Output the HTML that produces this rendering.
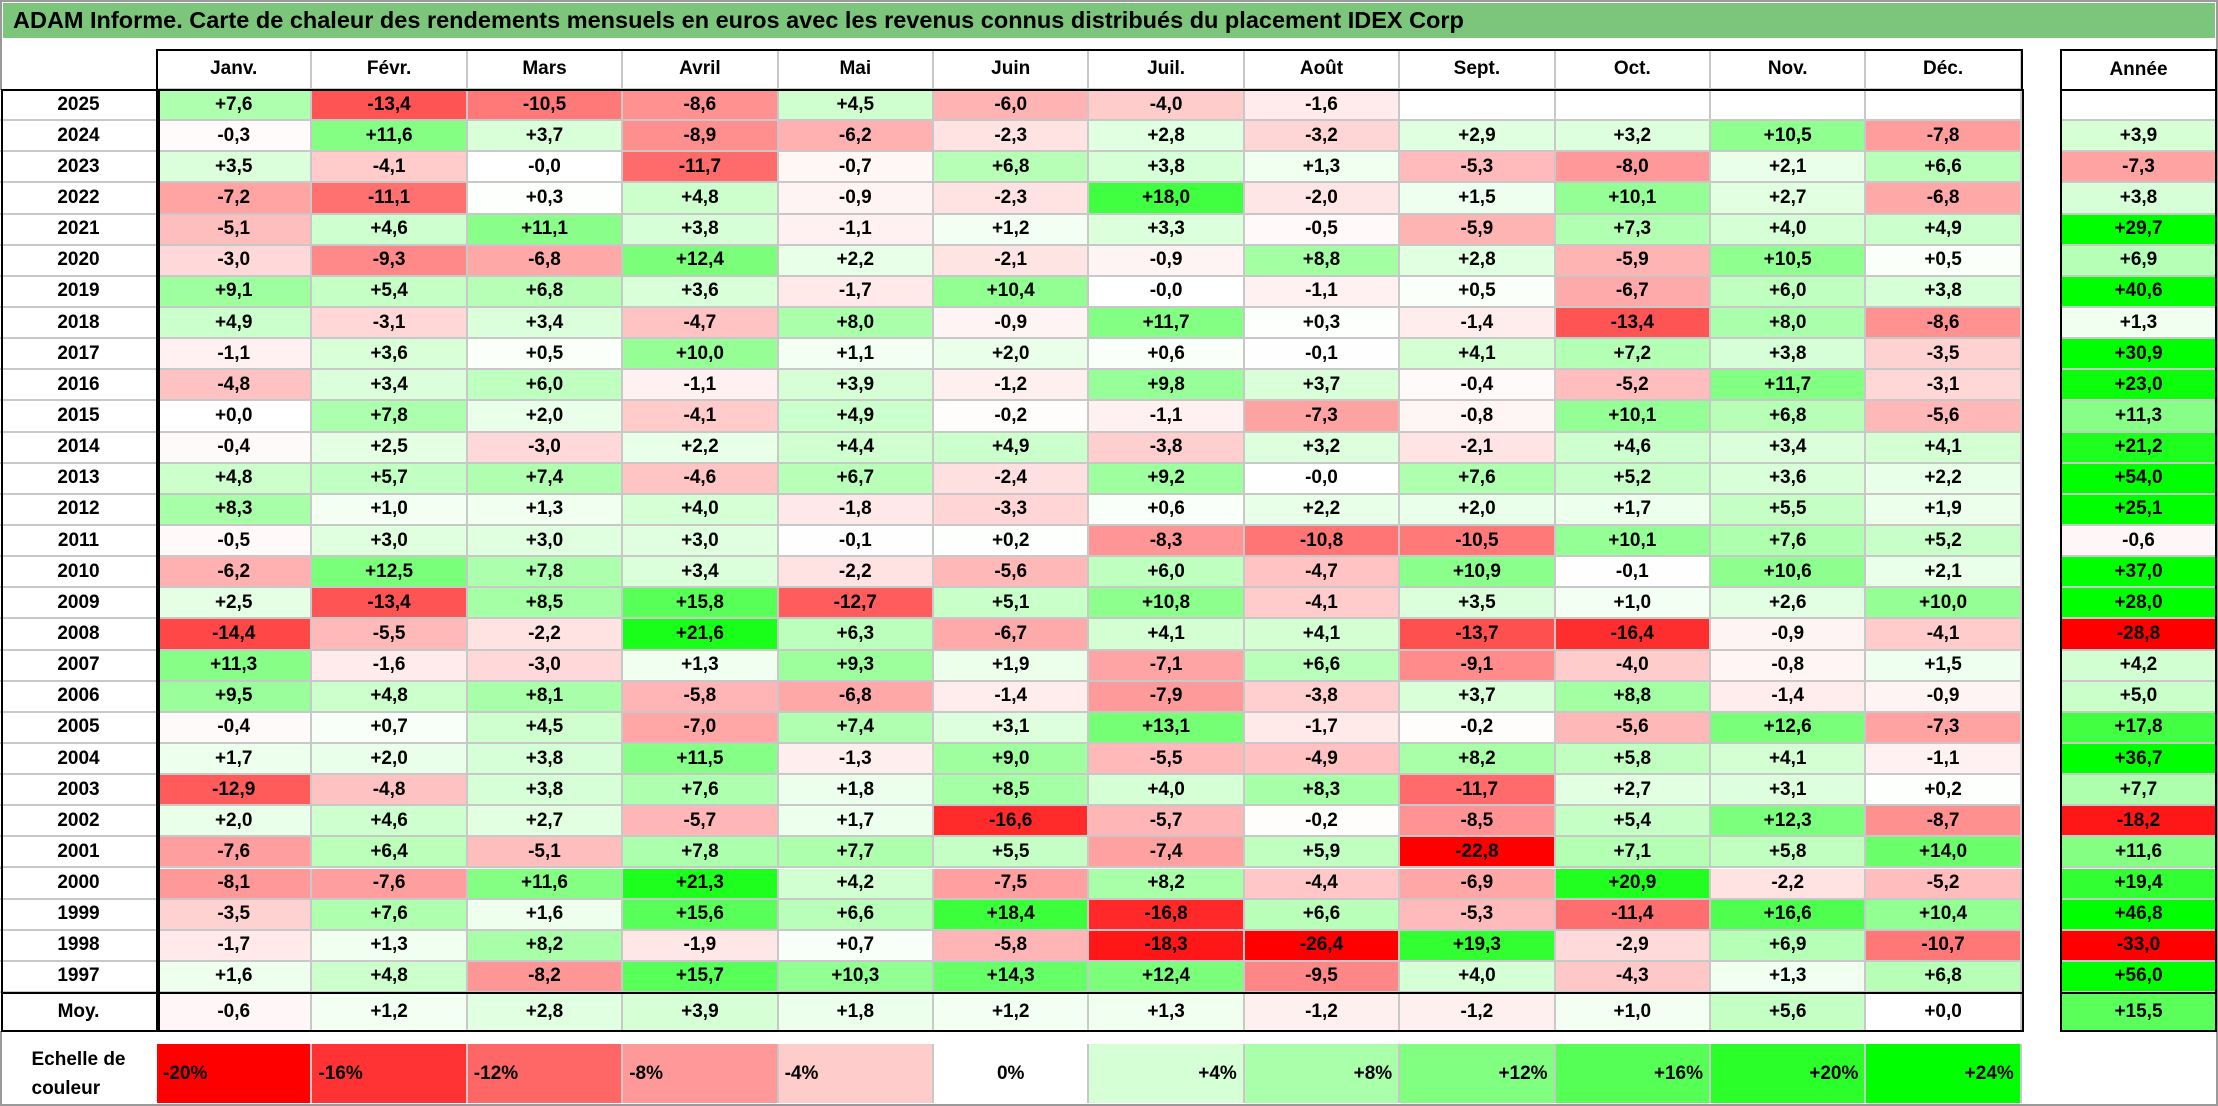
<!DOCTYPE html>
<html><head><meta charset="utf-8">
<style>
html,body{margin:0;padding:0;background:#fff;}
#root{position:relative;width:2218px;height:1106px;overflow:hidden;font-family:"Liberation Sans",sans-serif;font-weight:bold;color:#000;}
.c{position:absolute;box-sizing:border-box;display:flex;align-items:center;justify-content:center;font-size:19px;}
.frame{position:absolute;box-sizing:border-box;border:2px solid #000;pointer-events:none;}
</style></head>
<body>
<div id="root">
  <div style="position:absolute;left:0;top:0;width:2218px;height:1106px;box-sizing:border-box;border:2px solid #9a9a9a;"></div>
  <div style="position:absolute;left:3px;top:3px;width:2212px;height:35px;background:#7cc67c;font-size:23.5px;line-height:35px;padding-left:10px;box-sizing:border-box;white-space:nowrap;">ADAM Informe. Carte de chaleur des rendements mensuels en euros avec les revenus connus distribués du placement IDEX Corp</div>
</div>
<script>
const months=["Janv.","Févr.","Mars","Avril","Mai","Juin","Juil.","Août","Sept.","Oct.","Nov.","Déc."];
const years=["2025","2024","2023","2022","2021","2020","2019","2018","2017","2016","2015","2014","2013","2012","2011","2010","2009","2008","2007","2006","2005","2004","2003","2002","2001","2000","1999","1998","1997"];
const monthly=[
[7.6,-13.4,-10.5,-8.6,4.5,-6.0,-4.0,-1.6,null,null,null,null],
[-0.3,11.6,3.7,-8.9,-6.2,-2.3,2.8,-3.2,2.9,3.2,10.5,-7.8],
[3.5,-4.1,-0.0,-11.7,-0.7,6.8,3.8,1.3,-5.3,-8.0,2.1,6.6],
[-7.2,-11.1,0.3,4.8,-0.9,-2.3,18.0,-2.0,1.5,10.1,2.7,-6.8],
[-5.1,4.6,11.1,3.8,-1.1,1.2,3.3,-0.5,-5.9,7.3,4.0,4.9],
[-3.0,-9.3,-6.8,12.4,2.2,-2.1,-0.9,8.8,2.8,-5.9,10.5,0.5],
[9.1,5.4,6.8,3.6,-1.7,10.4,-0.0,-1.1,0.5,-6.7,6.0,3.8],
[4.9,-3.1,3.4,-4.7,8.0,-0.9,11.7,0.3,-1.4,-13.4,8.0,-8.6],
[-1.1,3.6,0.5,10.0,1.1,2.0,0.6,-0.1,4.1,7.2,3.8,-3.5],
[-4.8,3.4,6.0,-1.1,3.9,-1.2,9.8,3.7,-0.4,-5.2,11.7,-3.1],
[0.0,7.8,2.0,-4.1,4.9,-0.2,-1.1,-7.3,-0.8,10.1,6.8,-5.6],
[-0.4,2.5,-3.0,2.2,4.4,4.9,-3.8,3.2,-2.1,4.6,3.4,4.1],
[4.8,5.7,7.4,-4.6,6.7,-2.4,9.2,-0.0,7.6,5.2,3.6,2.2],
[8.3,1.0,1.3,4.0,-1.8,-3.3,0.6,2.2,2.0,1.7,5.5,1.9],
[-0.5,3.0,3.0,3.0,-0.1,0.2,-8.3,-10.8,-10.5,10.1,7.6,5.2],
[-6.2,12.5,7.8,3.4,-2.2,-5.6,6.0,-4.7,10.9,-0.1,10.6,2.1],
[2.5,-13.4,8.5,15.8,-12.7,5.1,10.8,-4.1,3.5,1.0,2.6,10.0],
[-14.4,-5.5,-2.2,21.6,6.3,-6.7,4.1,4.1,-13.7,-16.4,-0.9,-4.1],
[11.3,-1.6,-3.0,1.3,9.3,1.9,-7.1,6.6,-9.1,-4.0,-0.8,1.5],
[9.5,4.8,8.1,-5.8,-6.8,-1.4,-7.9,-3.8,3.7,8.8,-1.4,-0.9],
[-0.4,0.7,4.5,-7.0,7.4,3.1,13.1,-1.7,-0.2,-5.6,12.6,-7.3],
[1.7,2.0,3.8,11.5,-1.3,9.0,-5.5,-4.9,8.2,5.8,4.1,-1.1],
[-12.9,-4.8,3.8,7.6,1.8,8.5,4.0,8.3,-11.7,2.7,3.1,0.2],
[2.0,4.6,2.7,-5.7,1.7,-16.6,-5.7,-0.2,-8.5,5.4,12.3,-8.7],
[-7.6,6.4,-5.1,7.8,7.7,5.5,-7.4,5.9,-22.8,7.1,5.8,14.0],
[-8.1,-7.6,11.6,21.3,4.2,-7.5,8.2,-4.4,-6.9,20.9,-2.2,-5.2],
[-3.5,7.6,1.6,15.6,6.6,18.4,-16.8,6.6,-5.3,-11.4,16.6,10.4],
[-1.7,1.3,8.2,-1.9,0.7,-5.8,-18.3,-26.4,19.3,-2.9,6.9,-10.7],
[1.6,4.8,-8.2,15.7,10.3,14.3,12.4,-9.5,4.0,-4.3,1.3,6.8]];
const annual=[null,3.9,-7.3,3.8,29.7,6.9,40.6,1.3,30.9,23.0,11.3,21.2,54.0,25.1,-0.6,37.0,28.0,-28.8,4.2,5.0,17.8,36.7,7.7,-18.2,11.6,19.4,46.8,-33.0,56.0];
const averages=[-0.6,1.2,2.8,3.9,1.8,1.2,1.3,-1.2,-1.2,1.0,5.6,0.0];
const averageAnnual=15.5;
const scaleSteps=[-20,-16,-12,-8,-4,0,4,8,12,16,20,24];

const root=document.getElementById('root');
const X0=157, CW=155.4, Y0=90, RH=31.14, HY=50;
const AX=2061, AW=155;
function xCol(i){return X0+i*CW;}
function yRow(r){return Y0+r*RH;}
function color(v){
  if(v===null) return '#ffffff';
  if(v<0){const t=Math.min(1,-v/20);const g=Math.round(255*(1-t));return `rgb(255,${g},${g})`;}
  const t=Math.min(1,v/24);const r=Math.round(255*(1-t));return `rgb(${r},255,${r})`;
}
function fmt(v){
  if(v===null) return '';
  const s=(v<0||Object.is(v,-0))?'-':'+';
  return s+Math.abs(v).toFixed(1).replace('.',',');
}
function cell(x,y,w,h,txt,bg,name,extra){
  const d=document.createElement('div');
  d.className='c';
  d.style.left=x+'px';d.style.top=y+'px';d.style.width=w+'px';d.style.height=h+'px';
  d.style.background=bg||'transparent';
  if(extra) Object.assign(d.style,extra);
  d.textContent=txt;
  
  
  root.appendChild(d);
  return d;
}
const grid={borderRight:'2px solid #c8c8c8',borderBottom:'2px solid #c8c8c8'};
// header
months.forEach((m,i)=>{
  cell(xCol(i),HY,CW,Y0-HY,m,'#fff','month-header',grid);
});
cell(AX,HY,AW,Y0-HY,'Année','#fff','annual-header',{});
// rows
years.forEach((y,r)=>{
  cell(0,yRow(r),X0,RH,y,'#fff','year-label',{borderBottom:'2px solid #c8c8c8'});
  monthly[r].forEach((v,i)=>{
    cell(xCol(i),yRow(r),CW,RH,fmt(v),color(v),'heat-cell',grid);
  });
  cell(AX,yRow(r),AW,RH,fmt(annual[r]),color(annual[r]),'annual-cell',{borderBottom:'2px solid #c8c8c8'});
});
const yM=yRow(years.length), MH=1031-yM;
cell(0,yM,X0,MH,'Moy.','#fff','average-label',{});
averages.forEach((v,i)=>{
  cell(xCol(i),yM,CW,MH,fmt(v),color(v),'average-cell',{borderRight:'2px solid #c8c8c8'});
});
cell(AX,yM,AW,MH,fmt(averageAnnual),color(averageAnnual),'average-annual-cell',{});
// scale
cell(0,1044,X0,59,'','transparent','scale-label',{flexDirection:'column',lineHeight:'29px',fontSize:'19px'}).innerHTML='Echelle de<br>couleur';
scaleSteps.forEach((v,i)=>{
  const label=(v>0?'+':'')+v+'%';
  const jc=v<0?'flex-start':(v===0?'center':'flex-end');
  cell(xCol(i),1044,CW,59,label,color(v),'scale-swatch',{justifyContent:jc,padding:'0 6px',borderRight:'2px solid #c8c8c8'});
});
// frames
function frame(x,y,w,h,name){
  const f=document.createElement('div');f.className='frame';
  f.style.left=x+'px';f.style.top=y+'px';f.style.width=w+'px';f.style.height=h+'px';
  
  
  root.appendChild(f);
}
frame(X0-1,HY-1,xCol(12)-X0+2,Y0-HY+2,'header-frame');
frame(1,Y0-1,xCol(12)+1,yM-Y0+2,'body-frame');
frame(1,yM-1,xCol(12)+1,MH+2,'average-frame');
frame(X0-1,Y0-1,2,yM-Y0+MH+2,'year-divider');
frame(AX-1,HY-1,AW+2,Y0-HY+2,'annual-header-frame');
frame(AX-1,Y0-1,AW+2,yM-Y0+2,'annual-body-frame');
frame(AX-1,yM-1,AW+2,MH+2,'annual-average-frame');
</script>
</body></html>
